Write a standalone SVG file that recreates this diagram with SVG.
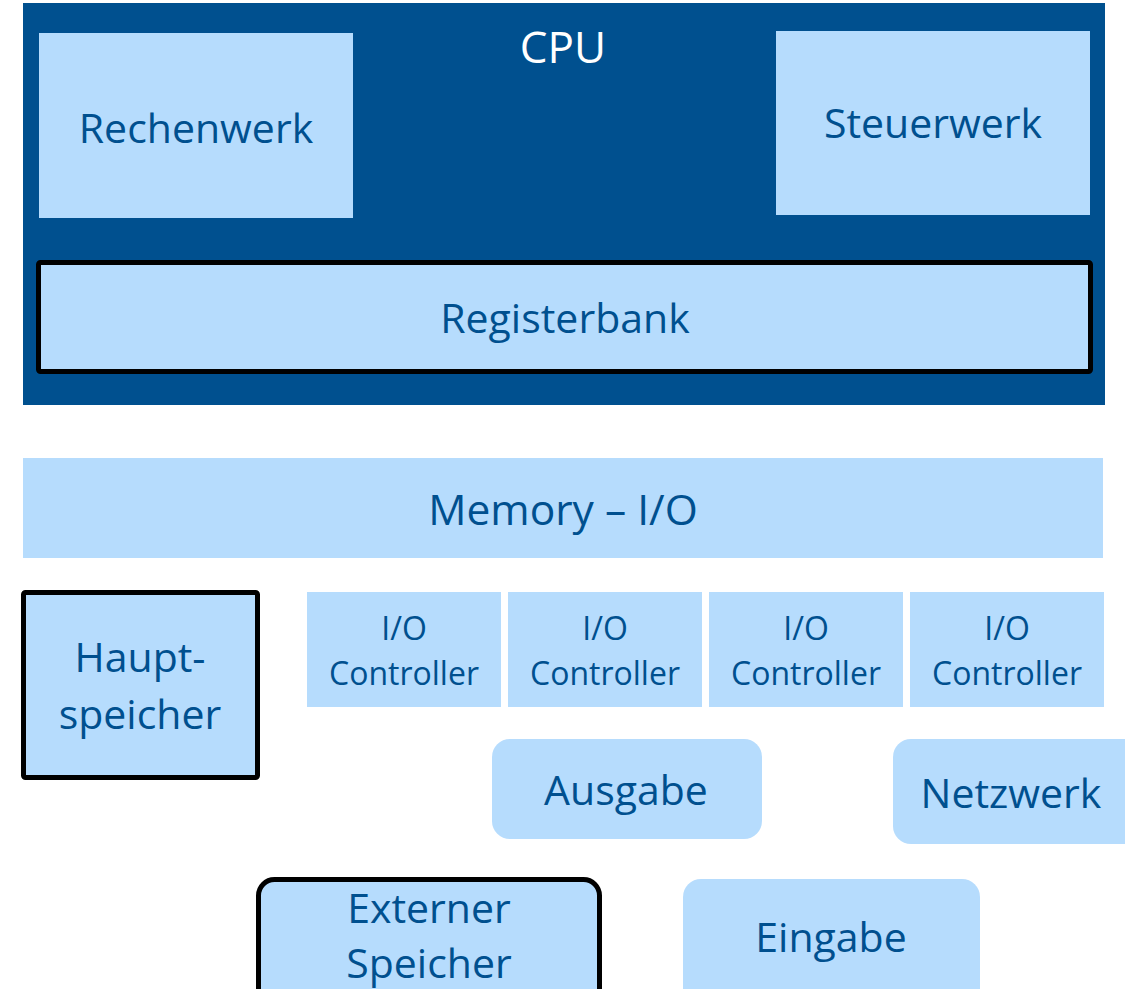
<svg xmlns="http://www.w3.org/2000/svg" width="1125" height="989" viewBox="0 0 1125 989">
<style>
.lb{fill:#B6DCFD}
.bd{stroke:#000;stroke-width:5}
text{font-family:"Open Sans","Noto Sans","Liberation Sans",sans-serif;fill:#00508F;text-anchor:middle}
.big{font-size:41px}
.sm{font-size:32px}
</style>
<rect width="1125" height="989" fill="#fff"/>
<g id="cpu">
<rect x="23" y="3" width="1082" height="402" fill="#00508F"/>
<text x="563" y="63" style="fill:#fff;font-size:44px">CPU</text>
</g>
<g id="rechenwerk">
<rect class="lb" x="39" y="33" width="314" height="185"/>
<text x="196" y="143" class="big">Rechenwerk</text>
</g>
<g id="steuerwerk">
<rect class="lb" x="776" y="31" width="314" height="184"/>
<text x="933" y="138" class="big">Steuerwerk</text>
</g>
<g id="registerbank">
<rect class="lb bd" x="38.5" y="262.5" width="1052" height="109" rx="2"/>
<text x="565" y="333" class="big">Registerbank</text>
</g>
<g id="memory-io">
<rect class="lb" x="23" y="458" width="1080" height="100"/>
<text x="563" y="525" style="font-size:42.5px">Memory – I/O</text>
</g>
<g id="hauptspeicher">
<rect class="lb bd" x="23.5" y="592.5" width="234" height="185" rx="2"/>
<text x="140" y="672" class="big">Haupt-</text>
<text x="140" y="729" class="big">speicher</text>
</g>
<g id="io1">
<rect class="lb" x="307" y="592" width="194" height="115"/>
<text x="404" y="640" class="sm">I/O</text>
<text x="404" y="685" class="sm">Controller</text>
</g>
<g id="io2">
<rect class="lb" x="508" y="592" width="194" height="115"/>
<text x="605" y="640" class="sm">I/O</text>
<text x="605" y="685" class="sm">Controller</text>
</g>
<g id="io3">
<rect class="lb" x="709" y="592" width="194" height="115"/>
<text x="806" y="640" class="sm">I/O</text>
<text x="806" y="685" class="sm">Controller</text>
</g>
<g id="io4">
<rect class="lb" x="910" y="592" width="194" height="115"/>
<text x="1007" y="640" class="sm">I/O</text>
<text x="1007" y="685" class="sm">Controller</text>
</g>
<g id="ausgabe">
<rect class="lb" x="492" y="739" width="270" height="100" rx="18"/>
<text x="626" y="805" class="big">Ausgabe</text>
</g>
<g id="netzwerk">
<rect class="lb" x="893" y="739" width="250" height="105" rx="18"/>
<text x="1011" y="808" class="big">Netzwerk</text>
</g>
<g id="externer-speicher">
<rect class="lb bd" x="258.5" y="879.5" width="341" height="130" rx="16"/>
<text x="429" y="923" class="big">Externer</text>
<text x="429" y="978" class="big">Speicher</text>
</g>
<g id="eingabe">
<rect class="lb" x="683" y="879" width="297" height="130" rx="18"/>
<text x="831" y="952" class="big">Eingabe</text>
</g>
<g id="connectors"></g>
</svg>
